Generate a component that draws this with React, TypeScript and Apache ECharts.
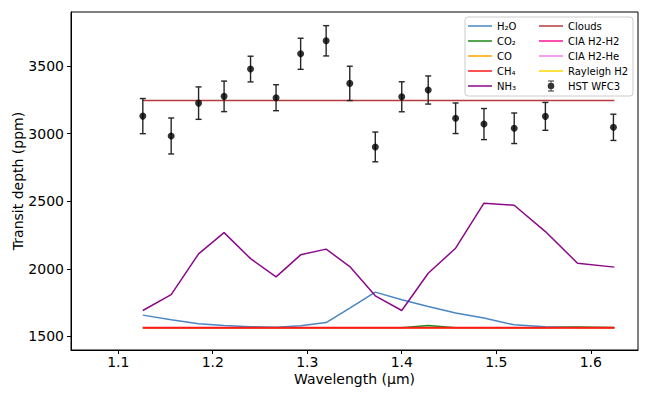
import React, { useEffect, useRef } from "react";
import * as echarts from "echarts";

// ---- data ----
const modelWavelength = [1.126, 1.156, 1.185, 1.212, 1.24, 1.267, 1.293, 1.32, 1.345, 1.372, 1.4, 1.428, 1.457, 1.487, 1.519, 1.552, 1.586, 1.625];
const h2oDepth = [1658, 1623, 1594, 1581, 1572, 1568, 1579, 1603, 1710, 1828, 1771, 1722, 1673, 1636, 1586, 1572, 1567, 1565];
const co2Depth = [1564, 1564, 1564, 1564, 1564, 1564, 1564, 1564, 1564, 1564, 1564, 1582, 1565, 1564, 1564, 1564, 1571, 1566];
const coDepth = [1564, 1564, 1564, 1564, 1564, 1564, 1564, 1564, 1564, 1564, 1564, 1564, 1564, 1564, 1564, 1564, 1564, 1564];
const ch4Depth = [1564, 1564, 1564, 1564, 1564, 1564, 1564, 1564, 1564, 1564, 1564, 1564, 1564, 1564, 1564, 1564, 1564, 1564];
const nh3Depth = [1692, 1810, 2111, 2268, 2076, 1941, 2104, 2146, 2017, 1801, 1692, 1968, 2153, 2486, 2471, 2276, 2042, 2013];
const cloudsDepth = [3246, 3246, 3246, 3246, 3246, 3246, 3246, 3246, 3246, 3246, 3246, 3246, 3246, 3246, 3246, 3246, 3246, 3246];

const obsWavelength = [1.126, 1.156, 1.185, 1.212, 1.24, 1.267, 1.293, 1.32, 1.345, 1.372, 1.4, 1.428, 1.457, 1.487, 1.519, 1.552, 1.624];
const obsDepth = [3130, 2983, 3226, 3276, 3478, 3266, 3591, 3687, 3372, 2902, 3273, 3323, 3114, 3071, 3040, 3128, 3047];
const obsError = [130, 133, 120, 113, 95, 96, 115, 112, 127, 110, 111, 104, 113, 115, 113, 103, 97];

const xTicks = [1.1, 1.2, 1.3, 1.4, 1.5, 1.6];
const yTicks = [1500, 2000, 2500, 3000, 3500];

const legendLeft = ["H₂O", "CO₂", "CO", "CH₄", "NH₃"];
const legendRight = ["Clouds", "CIA H2-H2", "CIA H2-He", "Rayleigh H2", "HST WFC3"];

const FONT = "DejaVu Sans";

const zip = (xs: number[], ys: number[]) => xs.map((x, i) => [x, ys[i]]);

const lineIcon = "path://M0,0 M24,14 M0,6.25 L24,6.25 L24,7.75 L0,7.75 Z";
const errIcon =
  "path://M0,0 M10,14 M2,1.5 L8,1.5 L8,2.5 L2,2.5 Z M4.5,1.5 L5.5,1.5 L5.5,12.5 L4.5,12.5 Z M2,11.5 L8,11.5 L8,12.5 L2,12.5 Z M8.3,7 A3.3,3.3 0 1,1 1.7,7 A3.3,3.3 0 1,1 8.3,7 Z";

function lineSeries(name: string, data: number[][], color: string, width = 1.5, z = 2) {
  return {
    name,
    type: "line",
    data,
    symbol: "none",
    showSymbol: false,
    z,
    lineStyle: { color, width },
    itemStyle: { color },
    emphasis: { disabled: true },
  };
}

export default function App() {
  const ref = useRef<HTMLDivElement>(null);

  useEffect(() => {
    if (!ref.current) return;
    const chart = echarts.init(ref.current, undefined, { renderer: "svg" });

    const errData = obsWavelength.map((x, i) => [x, obsDepth[i] - obsError[i], obsDepth[i] + obsError[i]]);

    const legendText = { fontFamily: FONT, fontSize: 10, color: "#000" };

    chart.setOption({
      animation: false,
      textStyle: { fontFamily: FONT },
      grid: {
        left: 71,
        right: 16,
        top: 12,
        bottom: 43,
        containLabel: false,
        outerBoundsMode: "none",
        show: true,
        borderColor: "#000",
        borderWidth: 1,
        backgroundColor: "transparent",
      },
      xAxis: {
        type: "value",
        min: 1.05,
        max: 1.65,
        name: "Wavelength (μm)",
        nameLocation: "middle",
        nameGap: 22,
        nameMoveOverlap: false,
        nameTextStyle: { fontFamily: FONT, fontSize: 14, color: "#000" },
        axisLine: { show: true, lineStyle: { color: "#000", width: 1 } },
        axisTick: { show: true, length: 4, customValues: xTicks, lineStyle: { color: "#000" } },
        axisLabel: {
          customValues: xTicks,
          margin: 5,
          fontFamily: FONT,
          fontSize: 14,
          color: "#000",
          formatter: (v: number) => v.toFixed(1),
        },
        splitLine: { show: false },
      },
      yAxis: {
        type: "value",
        min: 1400,
        max: 3900,
        name: "Transit depth (ppm)",
        nameLocation: "middle",
        nameGap: 46,
        nameRotate: 90,
        nameMoveOverlap: false,
        nameTextStyle: { fontFamily: FONT, fontSize: 14, color: "#000" },
        axisLine: { show: true, lineStyle: { color: "#000", width: 1 } },
        axisTick: { show: true, length: 4, customValues: yTicks, lineStyle: { color: "#000" } },
        axisLabel: {
          customValues: yTicks,
          margin: 7,
          fontFamily: FONT,
          fontSize: 14,
          color: "#000",
          formatter: (v: number) => String(v),
        },
        splitLine: { show: false },
      },
      legend: [
        {
          orient: "vertical",
          left: 468,
          top: 19,
          padding: 0,
          itemGap: 1,
          itemWidth: 24,
          itemHeight: 14,
          selectedMode: false,
          textStyle: legendText,
          data: legendLeft.map((name) => ({ name, icon: lineIcon })),
          z: 5,
        },
        {
          orient: "vertical",
          left: 539,
          top: 19,
          padding: 0,
          itemGap: 1,
          itemWidth: 24,
          itemHeight: 14,
          selectedMode: false,
          textStyle: legendText,
          data: [
            { name: legendRight[0], icon: lineIcon },
            { name: legendRight[1], icon: lineIcon },
            { name: legendRight[2], icon: lineIcon },
            { name: legendRight[3], icon: lineIcon },
            { name: legendRight[4], icon: errIcon },
          ],
          z: 5,
        },
      ],
      graphic: [
        {
          type: "rect",
          z: 4,
          shape: { x: 465, y: 17, width: 168, height: 79, r: 3 },
          style: { fill: "rgba(255,255,255,0.85)", stroke: "#cccccc", lineWidth: 1 },
        },
      ],
      series: [
        lineSeries(legendLeft[0], zip(modelWavelength, h2oDepth), "#4a87c2"),
        lineSeries(legendLeft[1], zip(modelWavelength, co2Depth), "#1a8a1a"),
        lineSeries(legendLeft[2], zip(modelWavelength, coDepth), "#ffa500"),
        lineSeries(legendLeft[3], zip(modelWavelength, ch4Depth), "#ff1a1a", 2),
        lineSeries(legendLeft[4], zip(modelWavelength, nh3Depth), "#8b0a8b"),
        lineSeries(legendRight[0], zip(modelWavelength, cloudsDepth), "#b43c3c"),
        lineSeries(legendRight[1], [], "#ff1493"),
        lineSeries(legendRight[2], [], "#ee82ee"),
        lineSeries(legendRight[3], [], "#ffd700"),
        {
          name: "HST WFC3 error",
          type: "custom",
          z: 3,
          data: errData,
          encode: { x: 0, y: [1, 2] },
          renderItem: (params: any, api: any) => {
            const x = api.value(0);
            const lo = api.coord([x, api.value(1)]);
            const hi = api.coord([x, api.value(2)]);
            const hw = 3;
            const style = { stroke: "#262626", lineWidth: 1.4, fill: "none" };
            return {
              type: "group",
              children: [
                { type: "line", shape: { x1: lo[0], y1: lo[1], x2: hi[0], y2: hi[1] }, style },
                { type: "line", shape: { x1: lo[0] - hw, y1: lo[1], x2: lo[0] + hw, y2: lo[1] }, style },
                { type: "line", shape: { x1: hi[0] - hw, y1: hi[1], x2: hi[0] + hw, y2: hi[1] }, style },
              ],
            };
          },
          emphasis: { disabled: true },
        },
        {
          name: legendRight[4],
          type: "scatter",
          z: 4,
          data: zip(obsWavelength, obsDepth),
          symbol: "circle",
          symbolSize: 7,
          itemStyle: { color: "#000" },
          emphasis: { disabled: true },
        },
      ],
    });

    return () => chart.dispose();
  }, []);

  return (
    <div
      ref={ref}
      style={{ position: "fixed", left: 0, top: 0, width: 654, height: 393, background: "#fff" }}
    />
  );
}
